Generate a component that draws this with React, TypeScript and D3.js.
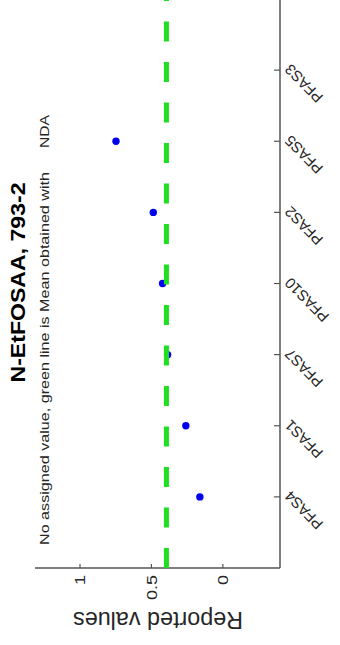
import React from 'react';
import * as d3 from 'd3';

const categories = ['PFAS4', 'PFAS1', 'PFAS7', 'PFAS10', 'PFAS2', 'PFAS5', 'PFAS3'];
const reported: (number | null)[] = [0.161, 0.259, 0.387, 0.422, 0.487, 0.748, null];
const meanValue = 0.395;
const valueTicks = [0, 0.5, 1];
const valueTickLabels = ['0', '0.5', '1'];
const title = 'N-EtFOSAA, 793-2';
const subtitle = 'No assigned value, green line is Mean obtained with';
const subtitleTag = 'NDA';
const yLabel = 'Reported values';

const W = 340;
const H = 645;
const FONT = '"Liberation Sans", Arial, Helvetica, sans-serif';

export default function App() {
  // Chart is drawn in a landscape frame (H wide, W tall) then rotated -90deg.
  const x = d3.scaleLinear().domain([0, categories.length + 1]).range([77, 646]);
  const y = d3.scaleLinear().domain([-0.4, 1.315]).range([280, 35]);
  const axisColor = '#555';
  const pts = reported
    .map((v, i) => ({ v, i }))
    .filter((d) => d.v !== null) as { v: number; i: number }[];

  return (
    <svg width={W} height={H} style={{ position: 'absolute', left: 0, top: 0 }}>
      <rect width={W} height={H} fill="#fff" />
      <g transform={`translate(0,${H}) rotate(-90)`} fontFamily={FONT}>
        {/* axes */}
        <line x1={x(0)} x2={x(categories.length + 1)} y1={y(-0.4)} y2={y(-0.4)} stroke={axisColor} strokeWidth={1.5} />
        <line x1={x(0)} x2={x(0)} y1={y(-0.4)} y2={y(1.315)} stroke={axisColor} strokeWidth={1.5} />
        {categories.map((c, i) => (
          <g key={c}>
            <line x1={x(i + 1)} x2={x(i + 1)} y1={y(-0.4)} y2={y(-0.4) - 6} stroke={axisColor} strokeWidth={1.2} />
            <text
              transform={`translate(${x(i + 1) + 7},291) rotate(-45)`}
              textAnchor="end"
              fontSize={15}
              fill="#262626"
            >
              {c}
            </text>
          </g>
        ))}
        {valueTicks.map((t, i) => (
          <g key={t}>
            <line x1={x(0)} x2={x(0) + 4} y1={y(t)} y2={y(t)} stroke={axisColor} strokeWidth={1.2} />
            <text
              transform={`translate(70,${y(t)}) scale(1.2,1)`}
              textAnchor="end"
              dy="0.35em"
              fontSize={15}
              fill="#262626"
            >
              {valueTickLabels[i]}
            </text>
          </g>
        ))}
        {/* points */}
        {pts.map((d) => (
          <circle key={d.i} cx={x(d.i + 1)} cy={y(d.v)} r={3.7} fill="#0000ee" />
        ))}
        {/* mean line */}
        <line
          x1={x(0)}
          x2={x(categories.length + 1)}
          y1={y(meanValue)}
          y2={y(meanValue)}
          stroke="#1ee01e"
          strokeWidth={5}
          strokeDasharray="20 20.5"
        />
        {/* texts */}
        <text x={362.5} y={25} textAnchor="middle" fontWeight="bold" fontSize={20} textLength={200} lengthAdjust="spacingAndGlyphs" fill="#000">
          {title}
        </text>
        <text x={100} y={49} fontSize={12.5} textLength={373} lengthAdjust="spacingAndGlyphs" fill="#262626">
          {subtitle}
        </text>
        <text x={497} y={49} fontSize={12.5} textLength={33} lengthAdjust="spacingAndGlyphs" fill="#262626">
          {subtitleTag}
        </text>
        <text
          transform={`translate(33.3,158) rotate(-90)`}
          textAnchor="middle"
          fontSize={23}
          textLength={170}
          lengthAdjust="spacingAndGlyphs"
          fill="#262626"
        >
          {yLabel}
        </text>
      </g>
    </svg>
  );
}
